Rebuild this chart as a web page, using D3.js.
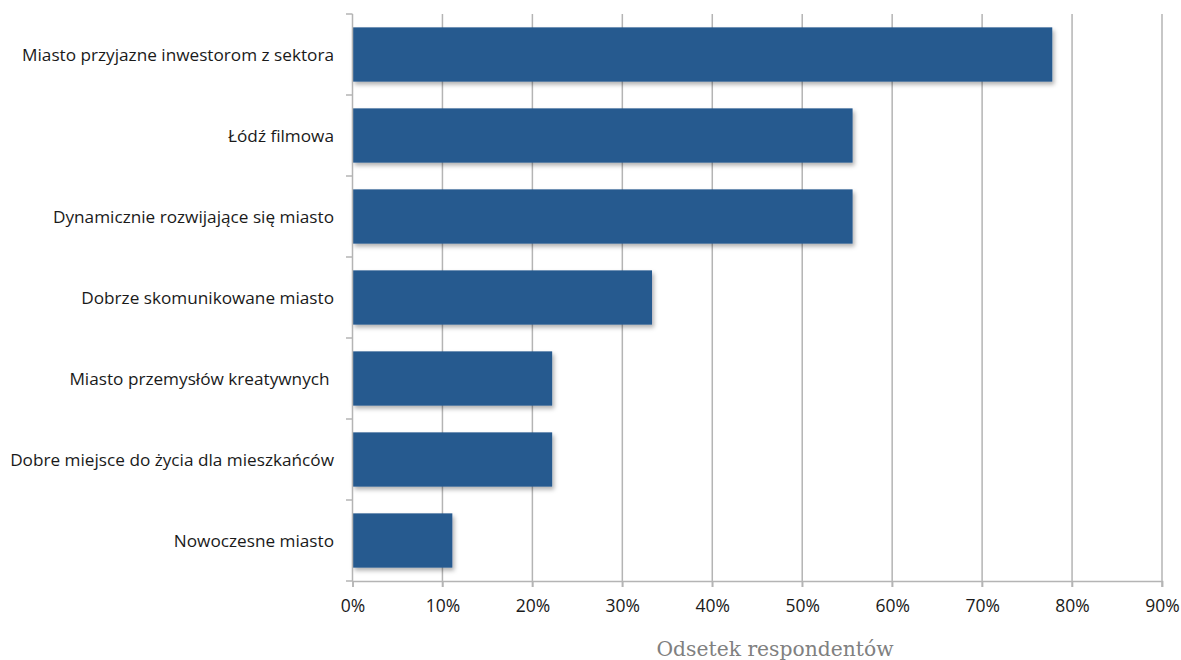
<!DOCTYPE html>
<html><head><meta charset="utf-8">
<script src="https://cdn.jsdelivr.net/npm/d3@7"></script>
<style>body{margin:0;background:#fff}text{white-space:pre}</style>
</head><body>
<svg id="c" width="1181" height="660"></svg>
<script>
const categories = ["Miasto przyjazne inwestorom z sektora","Łódź filmowa","Dynamicznie rozwijające się miasto","Dobrze skomunikowane miasto","Miasto przemysłów kreatywnych ","Dobre miejsce do życia dla mieszkańców","Nowoczesne miasto"];
const values = [77.8, 55.6, 55.6, 33.3, 22.2, 22.2, 11.1];
const xTicks = [0,10,20,30,40,50,60,70,80,90];
const axisTitle = "Odsetek respondentów";

const svg = d3.select("#c");
const defs = svg.append("defs");
const f = defs.append("filter").attr("id","sh").attr("x","-5%").attr("y","-10%").attr("width","115%").attr("height","140%");
f.append("feDropShadow").attr("dx",2).attr("dy",3).attr("stdDeviation",2).attr("flood-color","#000").attr("flood-opacity",0.3);

const x = d3.scaleLinear().domain([0,90]).range([352.5,1162]);
const y = d3.scaleBand().domain(categories).range([14,581]).paddingInner(0.33).paddingOuter(0.165);
const font = "Open Sans, sans-serif";

// gridlines
svg.append("g").selectAll("line").data(xTicks.slice(1)).join("line")
  .attr("x1",d=>x(d)).attr("x2",d=>x(d)).attr("y1",14).attr("y2",587)
  .attr("stroke","#b4b4b4").attr("stroke-width",1.5);

// bars
svg.append("g").selectAll("rect").data(values).join("rect")
  .attr("x",x(0)).attr("y",(d,i)=>y(categories[i]))
  .attr("width",d=>x(d)-x(0)).attr("height",y.bandwidth())
  .attr("fill","#285a8f").attr("filter","url(#sh)");

// x axis
const xa = svg.append("g").attr("transform","translate(0,581)")
  .call(d3.axisBottom(x).tickValues(xTicks).tickFormat(d=>d+"%").tickSize(6).tickPadding(13));
xa.select(".domain").attr("stroke","#b4b4b4").attr("stroke-width",1.5);
xa.selectAll(".tick line").attr("stroke","#b4b4b4").attr("stroke-width",1.5);
xa.selectAll("text").attr("font-family",font).attr("font-size",17.5).attr("fill","#1a1a1a");

// y axis
const yb = d3.range(categories.length+1).map(i=>14 + i*567/categories.length);
const ya = svg.append("g");
ya.append("line").attr("x1",352.5).attr("x2",352.5).attr("y1",14).attr("y2",581).attr("stroke","#b4b4b4").attr("stroke-width",1.5);
ya.selectAll("line.t").data(yb).join("line").attr("class","t")
  .attr("x1",346).attr("x2",352.5).attr("y1",d=>d).attr("y2",d=>d).attr("stroke","#b4b4b4").attr("stroke-width",1.5);
ya.selectAll("text").data(categories).join("text")
  .attr("x",334).attr("y",d=>y(d)+y.bandwidth()/2).attr("dy","0.35em")
  .attr("text-anchor","end").attr("font-family",font).attr("font-size",17.2).attr("fill","#1a1a1a").text(d=>d);

svg.append("text").attr("x",775).attr("y",656).attr("text-anchor","middle")
  .attr("font-family","DejaVu Serif, serif").attr("font-size",20.3).attr("fill","#808080").text(axisTitle);
</script>
</body></html>
